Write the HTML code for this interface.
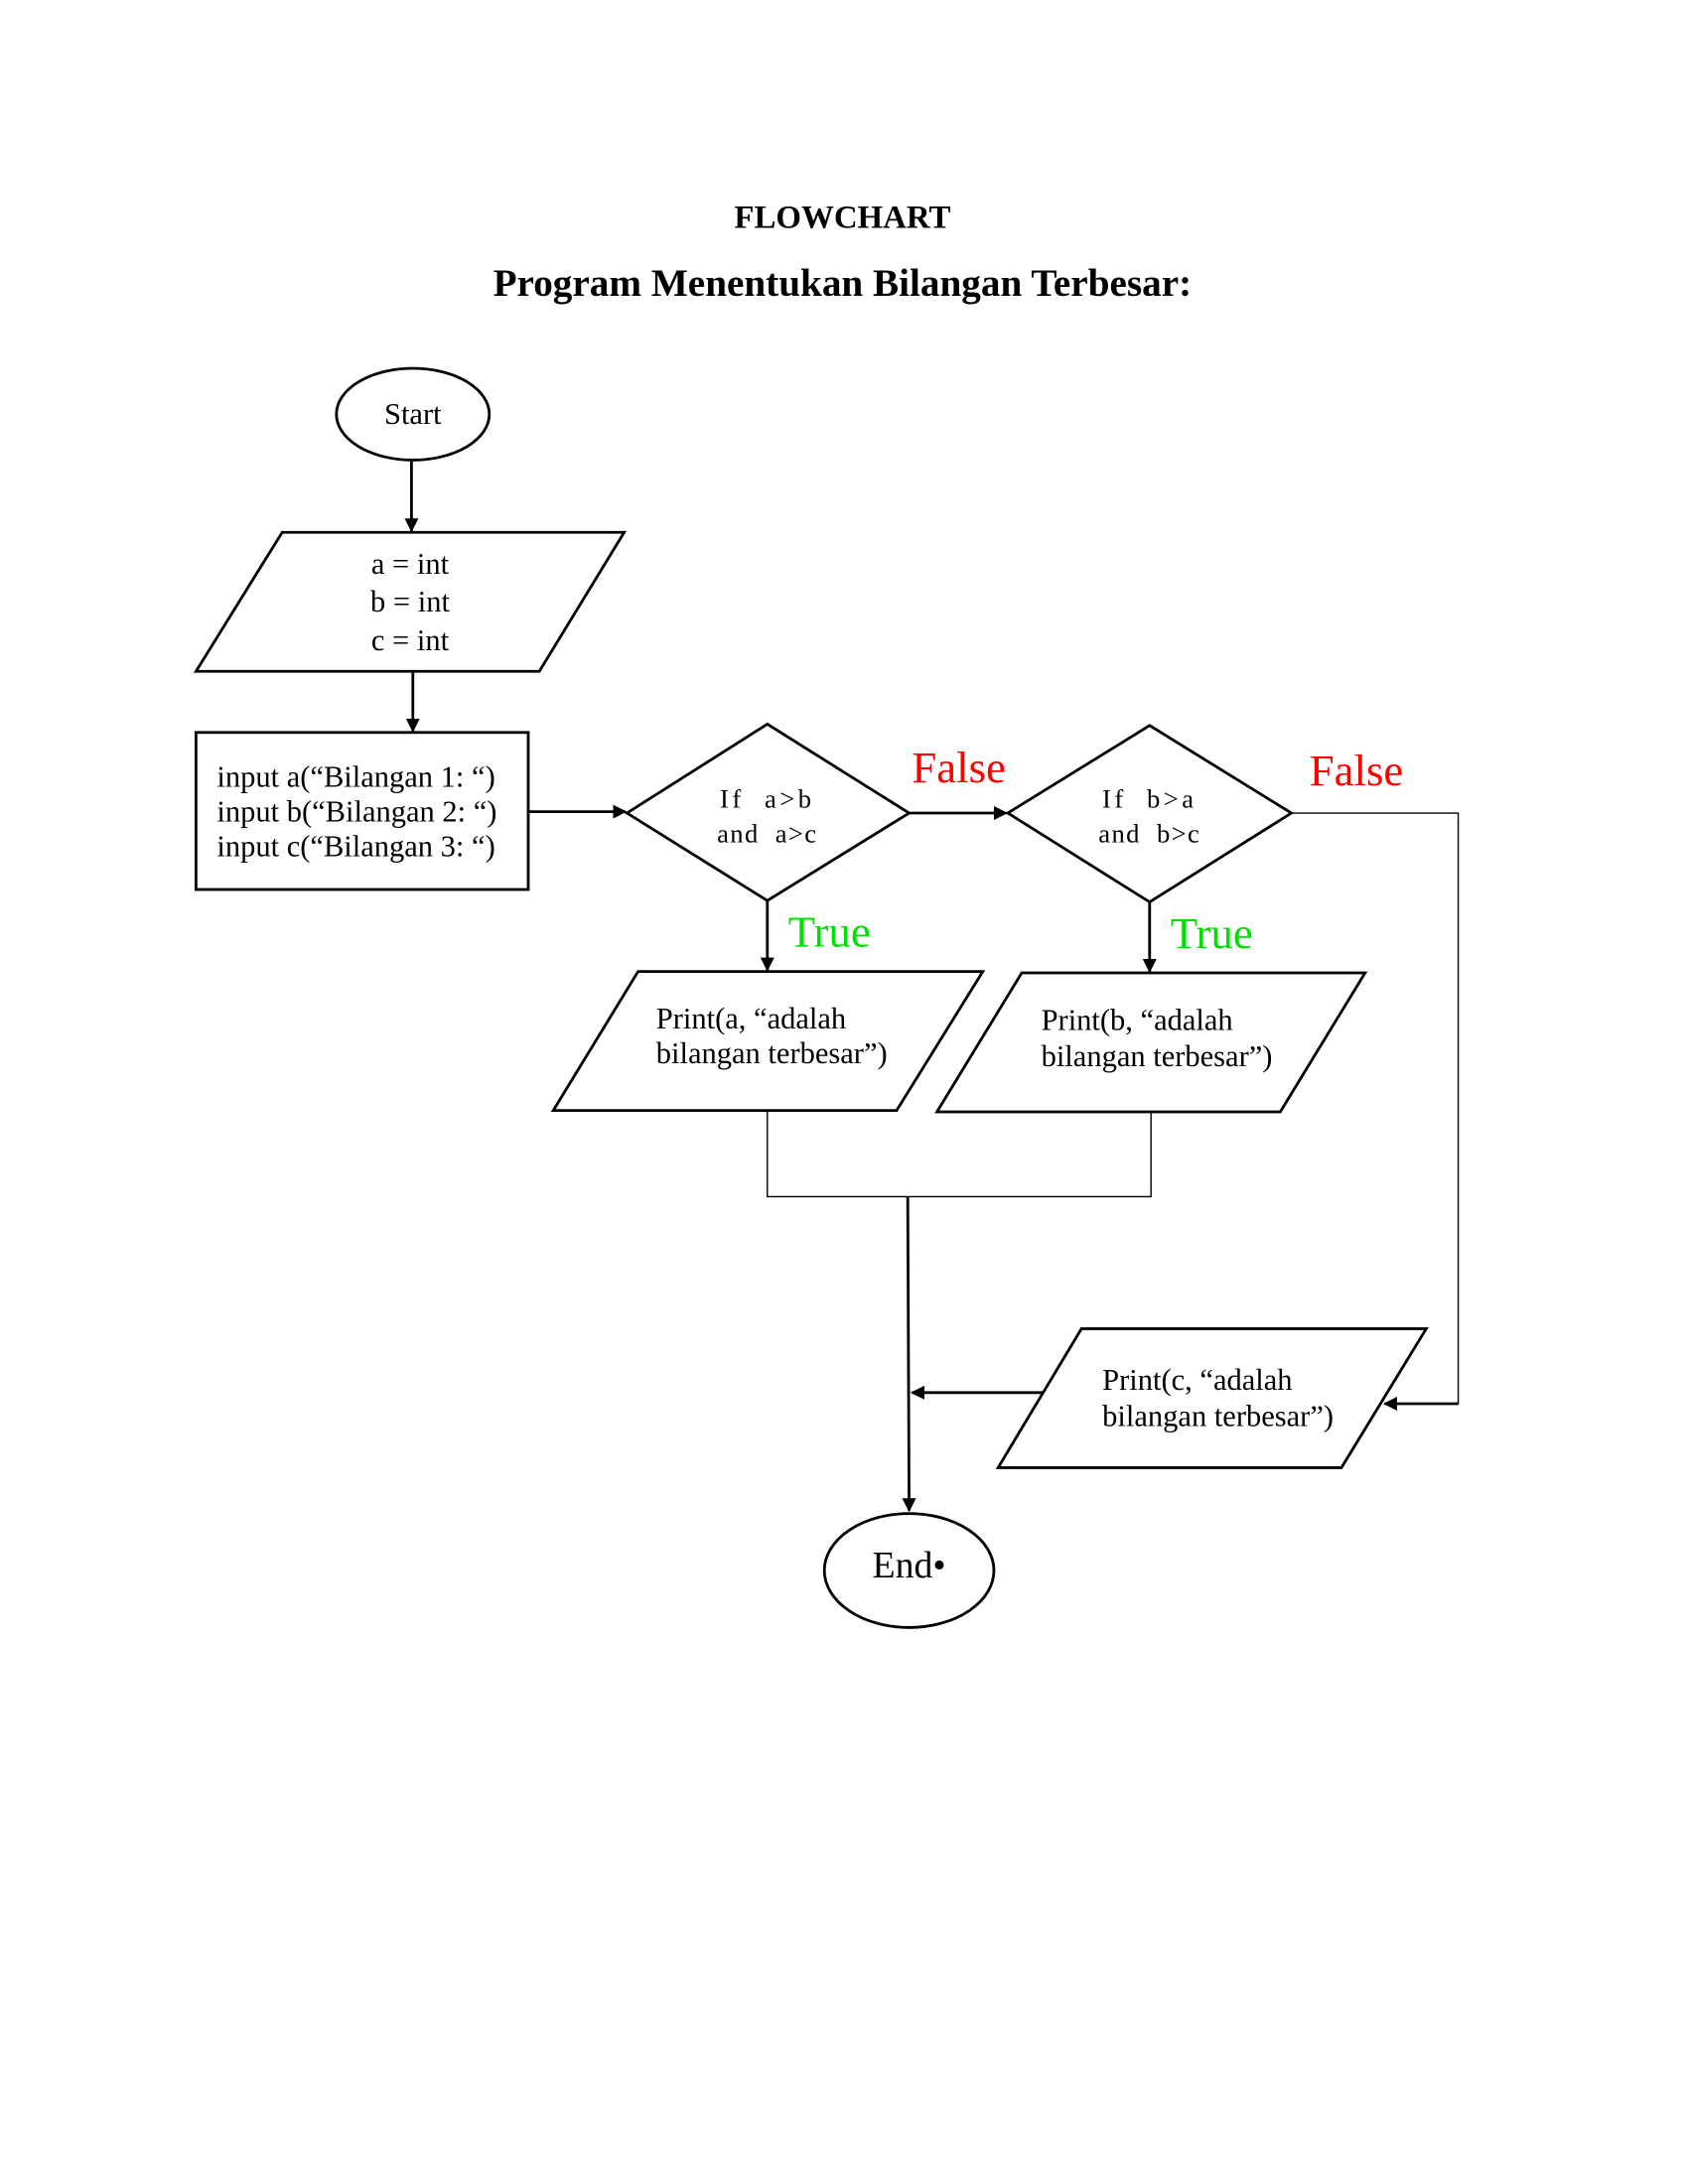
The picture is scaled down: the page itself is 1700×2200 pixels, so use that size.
<!DOCTYPE html>
<html><head><meta charset="utf-8"><style>
html,body{margin:0;padding:0;background:#fff;}
svg{display:block;}
text{font-family:"Liberation Serif",serif;fill:#000;}
</style></head><body>
<svg width="1700" height="2200" viewBox="0 0 1214.3 1571.4" xmlns="http://www.w3.org/2000/svg">
<defs>
<marker id="ar" markerWidth="10" markerHeight="10" refX="9" refY="5" orient="auto" markerUnits="userSpaceOnUse">
<path d="M0,0 L10,5 L0,10 z" fill="#000"/>
</marker>
</defs>
<text x="606" y="164" font-size="23.5" font-weight="bold" text-anchor="middle">FLOWCHART</text>
<text x="606" y="213" font-size="28" font-weight="bold" text-anchor="middle">Program Menentukan Bilangan Terbesar:</text>

<g fill="none" stroke="#000" stroke-width="2">
<ellipse cx="297" cy="298" rx="55" ry="33"/>
<polygon points="203,383 449,383 388,483 141,483"/>
<rect x="141" y="527" width="239" height="113"/>
<polygon points="451,585 552,521 654,585 552,648"/>
<polygon points="725,585 827,522 929,585 827,649"/>
<polygon points="459,699 707,699 645,799 398,799"/>
<polygon points="735,700 982,700 921,800 674,800"/>
<polygon points="778,956 1026,956 965,1056 718,1056"/>
<ellipse cx="654" cy="1130" rx="61" ry="41"/>
<line x1="296" y1="332" x2="296" y2="382" marker-end="url(#ar)"/>
<line x1="297" y1="484" x2="297" y2="526" marker-end="url(#ar)"/>
<line x1="380" y1="584" x2="450" y2="584" marker-end="url(#ar)"/>
<line x1="654" y1="585" x2="724" y2="585" marker-end="url(#ar)"/>
<line x1="552" y1="648" x2="552" y2="698" marker-end="url(#ar)"/>
<line x1="827" y1="649" x2="827" y2="699" marker-end="url(#ar)"/>
<line x1="653" y1="861" x2="654" y2="1087" marker-end="url(#ar)"/>
<line x1="750" y1="1002" x2="656" y2="1002" marker-end="url(#ar)"/>
</g>
<g fill="none" stroke="#000" stroke-width="1">
<polyline points="552,799 552,861 828,861 828,800"/>
<polyline points="929,585 1049,585 1049,1010 996,1010"/>
</g>
<line x1="1049" y1="1010" x2="996" y2="1010" stroke="#000" stroke-width="2" marker-end="url(#ar)"/>

<g font-size="21.8">
<text x="297" y="305" text-anchor="middle">Start</text>
<text x="295" y="413" text-anchor="middle">a = int</text>
<text x="295" y="440" text-anchor="middle">b = int</text>
<text x="295" y="468" text-anchor="middle">c = int</text>
<text x="156" y="566">input a(“Bilangan 1: “)</text>
<text x="156" y="591">input b(“Bilangan 2: “)</text>
<text x="156" y="616">input c(“Bilangan 3: “)</text>
<text x="552" y="581" text-anchor="middle" font-size="19" letter-spacing="2.5" xml:space="preserve">If  a&gt;b</text>
<text x="552" y="606" text-anchor="middle" font-size="19" letter-spacing="1" xml:space="preserve">and  a&gt;c</text>
<text x="827" y="581" text-anchor="middle" font-size="19" letter-spacing="2.5" xml:space="preserve">If  b&gt;a</text>
<text x="827" y="606" text-anchor="middle" font-size="19" letter-spacing="1" xml:space="preserve">and  b&gt;c</text>
<text x="472" y="740">Print(a, “adalah</text>
<text x="472" y="765">bilangan terbesar”)</text>
<text x="749" y="741">Print(b, “adalah</text>
<text x="749" y="767">bilangan terbesar”)</text>
<text x="793" y="1000">Print(c, “adalah</text>
<text x="793" y="1026">bilangan terbesar”)</text>
<text x="654" y="1135" text-anchor="middle" font-size="27">End•</text>
</g>
<g font-size="32">
<text x="656" y="563" style="fill:#ff0000">False</text>
<text x="942" y="565" style="fill:#ff0000">False</text>
<text x="567" y="681" style="fill:#00e000">True</text>
<text x="842" y="682" style="fill:#00e000">True</text>
</g>
</svg>
</body></html>
